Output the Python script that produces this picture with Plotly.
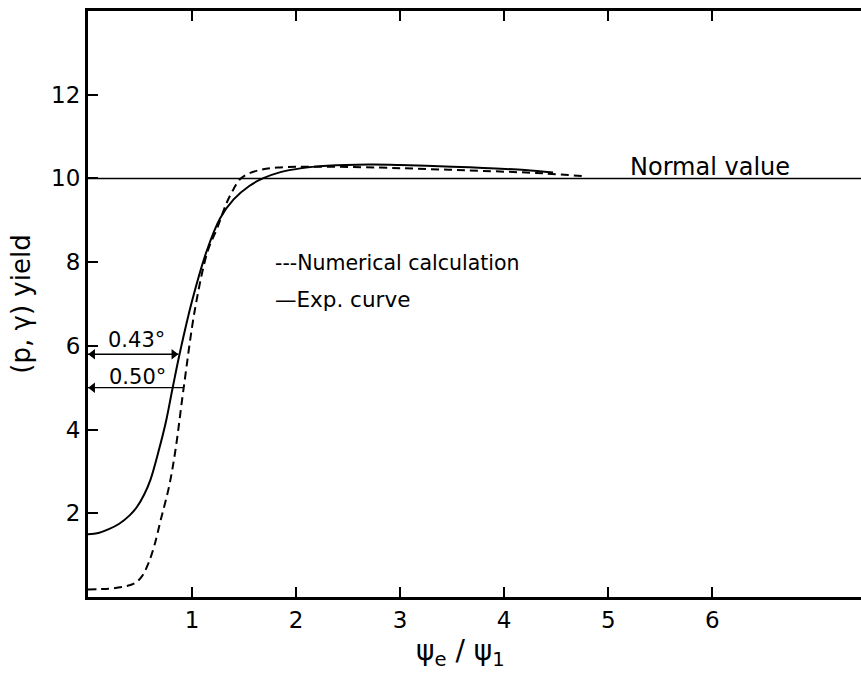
import plotly.graph_objects as go

# Experimental curve (solid)
exp_x = [0, 0.1, 0.2, 0.3, 0.4, 0.47, 0.54, 0.6, 0.68, 0.75, 0.81, 0.88, 1.0, 1.14, 1.27, 1.4, 1.55, 1.68, 1.85, 2.04, 2.3, 2.7, 3.0, 3.5, 3.8, 4.2, 4.47]
exp_y = [1.5, 1.53, 1.62, 1.75, 1.95, 2.15, 2.45, 2.8, 3.5, 4.2, 4.95, 5.8, 7.07, 8.26, 9.05, 9.5, 9.82, 10.0, 10.15, 10.24, 10.3, 10.33, 10.32, 10.28, 10.25, 10.2, 10.14]

# Numerical calculation (dashed)
num_x = [0, 0.2, 0.35, 0.45, 0.52, 0.58, 0.64, 0.7, 0.78, 0.84, 0.92, 1.03, 1.15, 1.24, 1.33, 1.4, 1.46, 1.53, 1.65, 1.82, 2.2, 2.8, 3.3, 3.8, 4.38, 4.78]
num_y = [0.18, 0.2, 0.25, 0.33, 0.5, 0.8, 1.25, 1.85, 2.65, 3.5, 5.0, 6.9, 8.26, 8.8, 9.4, 9.75, 9.98, 10.1, 10.2, 10.26, 10.28, 10.26, 10.22, 10.18, 10.12, 10.05]

NORMAL_VALUE = 10
X_MAX = 7.43
Y_MAX = 14
x_ticks = [1, 2, 3, 4, 5, 6]
y_ticks = [2, 4, 6, 8, 10, 12]

# width markers (angle labels) : label, level, end of the arrow
width_labels = ["0.43°", "0.50°"]
width_levels = [5.8, 5.0]
width_ends = [0.87, 0.92]

FONT = "DejaVu Sans"

fig = go.Figure()
fig.add_trace(go.Scatter(x=[0, X_MAX], y=[NORMAL_VALUE, NORMAL_VALUE], mode="lines",
                         line=dict(color="black", width=1.5), showlegend=False, hoverinfo="skip"))
fig.add_trace(go.Scatter(x=num_x, y=num_y, mode="lines",
                         line=dict(color="black", width=2, dash="8px,5px", shape="spline", smoothing=1.0),
                         showlegend=False))
fig.add_trace(go.Scatter(x=exp_x, y=exp_y, mode="lines",
                         line=dict(color="black", width=2, shape="spline", smoothing=1.0),
                         showlegend=False))

# arrows as line + triangle markers
for i, (lvl, xe) in enumerate(zip(width_levels, width_ends)):
    fig.add_trace(go.Scatter(x=[0, xe], y=[lvl, lvl], mode="lines",
                             line=dict(color="black", width=1.3), showlegend=False, hoverinfo="skip"))
    mx = [0.045]
    ms = ["triangle-left"]
    if i == 0:
        mx.append(xe - 0.045)
        ms.append("triangle-right")
    fig.add_trace(go.Scatter(x=mx, y=[lvl] * len(mx), mode="markers",
                             marker=dict(symbol=ms, size=9, color="black", line=dict(width=0)),
                             showlegend=False, hoverinfo="skip"))

anns = []
anns.append(dict(x=0.47, y=6.14, xref="x", yref="y", text=width_labels[0], showarrow=False,
                 font=dict(family=FONT, size=21, color="black")))
anns.append(dict(x=0.48, y=5.26, xref="x", yref="y", text=width_labels[1], showarrow=False,
                 font=dict(family=FONT, size=21, color="black")))
anns.append(dict(x=1.78, y=7.98, xref="x", yref="y", text="---Numerical calculation", showarrow=False,
                 xanchor="left", font=dict(family=FONT, size=20.5, color="black")))
anns.append(dict(x=1.78, y=7.1, xref="x", yref="y", text="—Exp. curve", showarrow=False,
                 xanchor="left", font=dict(family=FONT, size=21.5, color="black")))
anns.append(dict(x=5.98, y=10.28, xref="x", yref="y", text="Normal value", showarrow=False,
                 yanchor="middle", font=dict(family=FONT, size=24, color="black")))
anns.append(dict(x=3.58, y=-0.095, xref="x", yref="paper", text="ψ<sub>e</sub> / ψ<sub>1</sub>",
                 showarrow=False, yanchor="middle", font=dict(family=FONT, size=28, color="black")))

fig.update_layout(
    width=861, height=679,
    margin=dict(l=88, r=0, t=11, b=82),
    paper_bgcolor="white", plot_bgcolor="white",
    font=dict(family=FONT, color="black"),
    annotations=anns,
    xaxis=dict(range=[0, X_MAX], tickvals=x_ticks, ticktext=[str(v) for v in x_ticks],
               showgrid=False, zeroline=False, showline=True, linecolor="black", linewidth=3,
               mirror="ticks", ticks="inside", ticklen=10, tickwidth=1.5, tickcolor="black",
               tickfont=dict(family=FONT, size=23, color="black")),
    yaxis=dict(range=[0, Y_MAX], tickvals=y_ticks, ticktext=[str(v) for v in y_ticks],
               showgrid=False, zeroline=False, showline=True, linecolor="black", linewidth=3,
               ticks="inside", ticklen=10, tickwidth=1.5, tickcolor="black",
               tickfont=dict(family=FONT, size=23, color="black"),
               title=dict(text="(p, γ) yield", font=dict(family=FONT, size=26, color="black"), standoff=14)),
)

fig.write_html("out.html")
